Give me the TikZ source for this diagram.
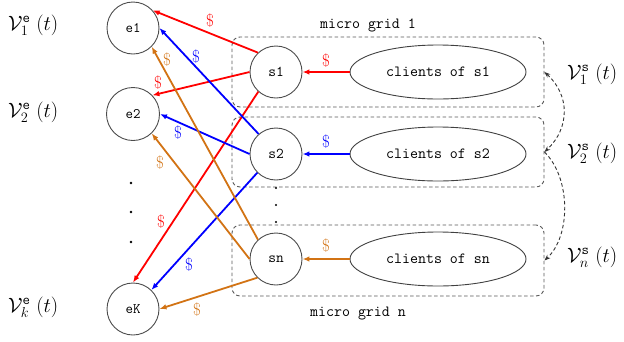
\documentclass[tikz,border=0pt]{standalone}
\usetikzlibrary{arrows.meta,shapes.geometric}
\definecolor{myorange}{RGB}{210,115,20}
\definecolor{myred}{RGB}{255,0,0}
\definecolor{myblue}{RGB}{0,0,255}
\begin{document}
\begin{tikzpicture}[x=1pt,y=-1pt,
  circ/.style={circle,draw=black!70,line width=0.9pt,minimum size=52pt,inner sep=0pt,font=\fontsize{15}{18}\selectfont\ttfamily},
  ell/.style={ellipse,draw=black!75,line width=0.9pt,minimum width=176pt,minimum height=54pt,inner sep=0pt,font=\fontsize{15.5}{18}\selectfont\ttfamily},
  mgrid/.style={draw=black!65,dash pattern=on 3.5pt off 2.5pt,line width=0.9pt,rounded corners=8pt,minimum width=312pt,minimum height=70pt,inner sep=0pt},
  flow/.style={line width=1.8pt,-{Latex[length=7pt,width=5.5pt]}},
  dol/.style={font=\fontsize{17}{19}\selectfont,inner sep=0pt},
  lab/.style={font=\fontsize{15.5}{18}\selectfont\ttfamily,inner sep=0pt},
  vlab/.style={font=\fontsize{22.5}{27}\selectfont,anchor=base west,inner sep=0pt},
  bigdot/.style={circle,fill=black,inner sep=0pt,minimum size=2.8pt},
  smalldot/.style={circle,fill=black,inner sep=0pt,minimum size=2.2pt},
  curv/.style={draw=black!80,dash pattern=on 3.5pt off 2.5pt,line width=0.9pt}
  ]
\useasboundingbox (0,0) rectangle (624,341);
% micro grids
\node[mgrid] (g1) at (388,72) {};
\node[mgrid] (g2) at (388,152) {};
\node[mgrid,minimum height=71pt] (gn) at (388,260.5) {};
\node[lab] (t1) at (368,25) {micro grid 1};
\node[lab] (tn) at (358,314) {micro grid n};
% clients
\node[ell] (c1) at (438,72) {clients of s1};
\node[ell] (c2) at (438,154) {clients of s2};
\node[ell] (cn) at (438,259) {clients of sn};
% storages
\node[circ] (s1) at (276,72) {s1};
\node[circ] (s2) at (276,154) {s2};
\node[circ] (sn) at (276,259) {sn};
% consumers
\node[circ,font=\fontsize{14.5}{17}\selectfont\ttfamily] (e1) at (133,28) {e1};
\node[circ,font=\fontsize{14.5}{17}\selectfont\ttfamily,minimum size=53pt] (e2) at (133,114) {e2};
\node[circ,font=\fontsize{14.5}{17}\selectfont\ttfamily] (eK) at (133,309) {eK};
% dots
\node[bigdot] (d1) at (131,183) {};
\node[bigdot] (d2) at (131,212) {};
\node[bigdot] (d3) at (131,242) {};
\node[smalldot] (m1) at (276,188) {};
\node[smalldot] (m2) at (276,205) {};
\node[smalldot] (m3) at (276,222) {};
% red flows
\draw[flow,myred] (s1.133) -- (e1.42);
\draw[flow,myred] (s1.180) -- (e2.44);
\draw[flow,myred] (s1.228) -- (eK.90);
\draw[flow,myred] (c1.west) -- (s1.east);
% blue flows
\draw[flow,myblue] (s2.131) -- (e1.0);
\draw[flow,myblue] (s2.180) -- (e2.0);
\draw[flow,myblue] (s2.225) -- (eK.46);
\draw[flow,myblue] (c2.west) -- (s2.east);
% orange flows
\draw[flow,myorange] (sn.133) -- (e1.-45);
\draw[flow,myorange] (sn.180) -- (e2.-46);
\draw[flow,myorange] (sn.225) -- (eK.0);
\draw[flow,myorange] (cn.west) -- (sn.east);
% dollar labels
\node[dol,text=myred] (r1) at (210,21) {\$};
\node[dol,text=myred] (r2) at (158,83) {\$};
\node[dol,text=myred] (r3) at (161,222) {\$};
\node[dol,text=myred] (rc) at (326,61) {\$};
\node[dol,text=myblue] (b1) at (196,57) {\$};
\node[dol,text=myblue] (b2) at (178,133) {\$};
\node[dol,text=myblue] (b3) at (189,265) {\$};
\node[dol,text=myblue] (bc) at (326,142) {\$};
\node[dol,text=myorange] (o1) at (167,60) {\$};
\node[dol,text=myorange] (o2) at (160,163) {\$};
\node[dol,text=myorange] (o3) at (197,310) {\$};
\node[dol,text=myorange] (oc) at (326,246) {\$};
% exchange between grids
\draw[curv,{Stealth[length=6pt,width=4.5pt]}-{Stealth[length=6pt,width=4.5pt]}] (g1.east) .. controls (570,95) and (570,128) .. (g2.east);
\draw[curv,-{Stealth[length=6pt,width=4.5pt]}] (g2.east) .. controls (571,178) and (571,236) .. (gn.east);
% value labels
\node[vlab] (v1e) at (8,30) {$\mathcal{V}^{\mathtt{e}}_{1}\;(t)$};
\node[vlab] (v2e) at (8,117) {$\mathcal{V}^{\mathtt{e}}_{2}\;(t)$};
\node[vlab] (vke) at (8,312) {$\mathcal{V}^{\mathtt{e}}_{k}\;(t)$};
\node[vlab] (v1s) at (567,79) {$\mathcal{V}^{\mathtt{s}}_{1}\;(t)$};
\node[vlab] (v2s) at (567,158) {$\mathcal{V}^{\mathtt{s}}_{2}\;(t)$};
\node[vlab] (vns) at (567,262) {$\mathcal{V}^{\mathtt{s}}_{n}\;(t)$};
\end{tikzpicture}
\end{document}
